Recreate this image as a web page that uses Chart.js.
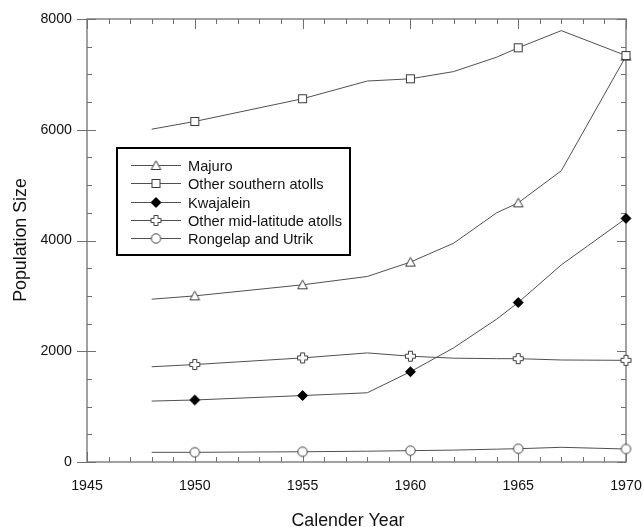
<!DOCTYPE html>
<html><head><meta charset="utf-8">
<script src="https://cdn.jsdelivr.net/npm/chart.js@4.4.0/dist/chart.umd.min.js"></script>
<style>html,body{margin:0;padding:0;background:#fff}#wrap{width:644px;height:527px}</style>
</head><body><div id="wrap"><canvas id="c" width="644" height="527"></canvas></div>
<script>
// ---- data ----
const years = [1948, 1950, 1955, 1958, 1960, 1962, 1964, 1965, 1967, 1970];
const markerYears = [1950, 1955, 1960, 1965, 1970];
const seriesNames = ['Majuro', 'Other southern atolls', 'Kwajalein', 'Other mid-latitude atolls', 'Rongelap and Utrik'];
const majuro        = [2940, 3000, 3200, 3350, 3610, 3950, 4500, 4680, 5260, 7330];
const otherSouthern = [6010, 6150, 6560, 6880, 6920, 7050, 7310, 7480, 7790, 7340];
const kwajalein     = [1100, 1120, 1200, 1250, 1630, 2060, 2580, 2880, 3560, 4400];
const otherMid      = [1720, 1760, 1880, 1970, 1910, 1875, 1866, 1866, 1842, 1836];
const rongelap      = [175, 175, 185, 195, 205, 215, 232, 240, 265, 235];
const xTickLabels = ['1945', '1950', '1955', '1960', '1965', '1970'];
const yTickLabels = ['0', '2000', '4000', '6000', '8000'];
const xTitle = 'Calender Year';
const yTitle = 'Population Size';

const FONT = "'Liberation Sans', Arial, sans-serif";
const LINE = '#505050';
const MK = '#3a3a3a';
const TXT = '#111';

function mkCanvas(draw) {
  const c = document.createElement('canvas');
  c.width = 13; c.height = 13;
  const g = c.getContext('2d');
  g.lineWidth = 1; g.strokeStyle = MK; g.fillStyle = '#fff';
  draw(g, 6.5);
  return c;
}
const triangle = mkCanvas((g, c) => { g.beginPath(); g.moveTo(c, 1.8); g.lineTo(c + 4.8, 10.5); g.lineTo(c - 4.8, 10.5); g.closePath(); g.fill(); g.stroke(); });
const square = mkCanvas((g, c) => { g.fillRect(2.5, 2.5, 8, 8); g.strokeRect(2.5, 2.5, 8, 8); });
const diamond = mkCanvas((g, c) => { g.fillStyle = '#000'; g.strokeStyle = '#000'; g.beginPath(); g.moveTo(c, 1.5); g.lineTo(c + 5, c); g.lineTo(c, 11.5); g.lineTo(c - 5, c); g.closePath(); g.fill(); g.stroke(); });
const plus = mkCanvas((g, c) => {
  const a = 2, b = 5; g.beginPath();
  g.moveTo(c - a, c - b); g.lineTo(c + a, c - b); g.lineTo(c + a, c - a); g.lineTo(c + b, c - a);
  g.lineTo(c + b, c + a); g.lineTo(c + a, c + a); g.lineTo(c + a, c + b); g.lineTo(c - a, c + b);
  g.lineTo(c - a, c + a); g.lineTo(c - b, c + a); g.lineTo(c - b, c - a); g.lineTo(c - a, c - a);
  g.closePath(); g.fill(); g.stroke();
});
const circle = mkCanvas((g, c) => { g.beginPath(); g.arc(c, c, 4.7, 0, Math.PI * 2); g.fill(); g.stroke(); });

const seriesValues = [majuro, otherSouthern, kwajalein, otherMid, rongelap];
const markers = [triangle, square, diamond, plus, circle];

const datasets = seriesValues.map((vals, k) => ({
  label: seriesNames[k],
  data: years.map((x, i) => ({ x: x, y: vals[i] })),
  borderColor: LINE,
  borderWidth: 1,
  tension: 0,
  fill: false,
  clip: false,
  pointStyle: markers[k],
  pointRadius: years.map(y => markerYears.includes(y) ? 6 : 0),
  pointHoverRadius: years.map(y => markerYears.includes(y) ? 6 : 0),
  order: 5 - k
}));

const frameTicks = {
  id: 'frameTicks',
  beforeDatasetsDraw(chart) {
    const { ctx, chartArea: a, scales } = chart;
    const x = scales.x, y = scales.y;
    ctx.save();
    ctx.strokeStyle = '#707070';
    ctx.lineWidth = 1.3;
    ctx.strokeRect(a.left, a.top, a.right - a.left, a.bottom - a.top);
    ctx.lineWidth = 1;
    ctx.beginPath();
    for (let yr = 1945; yr <= 1970; yr++) {
      const px = Math.round(x.getPixelForValue(yr)) + 0.5;
      const L = (yr % 5 === 0) ? 10 : 5;
      ctx.moveTo(px, a.bottom); ctx.lineTo(px, a.bottom - L);
      ctx.moveTo(px, a.top); ctx.lineTo(px, a.top + L);
    }
    for (let v = 0; v <= 8000; v += 500) {
      const py = Math.round(y.getPixelForValue(v)) + 0.5;
      const major = v % 2000 === 0;
      const L = major ? 9 : 5;
      ctx.moveTo(a.left - (major ? 10 : 0), py); ctx.lineTo(a.left + L, py);
      ctx.moveTo(a.right, py); ctx.lineTo(a.right - L, py);
    }
    ctx.stroke();
    // axis titles
    ctx.fillStyle = TXT;
    ctx.font = '17.8px ' + FONT;
    ctx.textAlign = 'center';
    ctx.textBaseline = 'alphabetic';
    ctx.fillText(xTitle, 348, 526);
    ctx.translate(25.5, 240);
    ctx.rotate(-Math.PI / 2);
    ctx.fillText(yTitle, 0, 0);
    ctx.restore();
  }
};

const boxLegend = {
  id: 'boxLegend',
  afterDatasetsDraw(chart) {
    const ctx = chart.ctx;
    const bx = 117, by = 148, bw = 233, bh = 107;
    ctx.save();
    ctx.fillStyle = '#fff';
    ctx.fillRect(bx, by, bw, bh);
    ctx.strokeStyle = '#000';
    ctx.lineWidth = 2;
    ctx.strokeRect(bx, by, bw, bh);
    ctx.font = '14.6px ' + FONT;
    ctx.textBaseline = 'middle';
    ctx.fillStyle = TXT;
    chart.data.datasets.forEach((ds, k) => {
      const yy = Math.round(165 + k * 18.35) + 0.5;
      ctx.strokeStyle = LINE; ctx.lineWidth = 1;
      ctx.beginPath(); ctx.moveTo(131, yy); ctx.lineTo(181, yy); ctx.stroke();
      ctx.drawImage(markers[k], 156 - 6.5, yy - 6.5);
      ctx.fillText(seriesNames[k], 188, yy + 1);
    });
    ctx.restore();
  }
};

new Chart(document.getElementById('c'), {
  type: 'line',
  data: { datasets: datasets },
  options: {
    responsive: false,
    animation: false,
    devicePixelRatio: 1,
    layout: { padding: { left: 0, right: 18, top: 19, bottom: 0 } },
    plugins: { legend: { display: false }, tooltip: { enabled: false } },
    scales: {
      x: {
        type: 'linear', min: 1945, max: 1970,
        grid: { display: false, drawTicks: false },
        border: { display: false },
        ticks: {
          stepSize: 5, padding: 16, color: TXT, maxRotation: 0,
          font: { family: FONT, size: 14.2 },
          callback: (v) => { const i = Math.round((v - 1945) / 5); return xTickLabels[i] !== undefined ? xTickLabels[i] : ''; }
        },
        title: { display: false },
        afterFit(s) { s.height = 65; s.paddingLeft = 0; s.paddingRight = 0; }
      },
      y: {
        type: 'linear', min: 0, max: 8000,
        grid: { display: false, drawTicks: false },
        border: { display: false },
        ticks: {
          stepSize: 2000, padding: 15, color: TXT,
          font: { family: FONT, size: 14.2 },
          callback: (v) => { const i = Math.round(v / 2000); return yTickLabels[i] !== undefined ? yTickLabels[i] : ''; }
        },
        title: { display: false },
        afterFit(s) { s.width = 87; s.paddingTop = 0; s.paddingBottom = 0; }
      }
    }
  },
  plugins: [frameTicks, boxLegend]
});
</script>
</body></html>
